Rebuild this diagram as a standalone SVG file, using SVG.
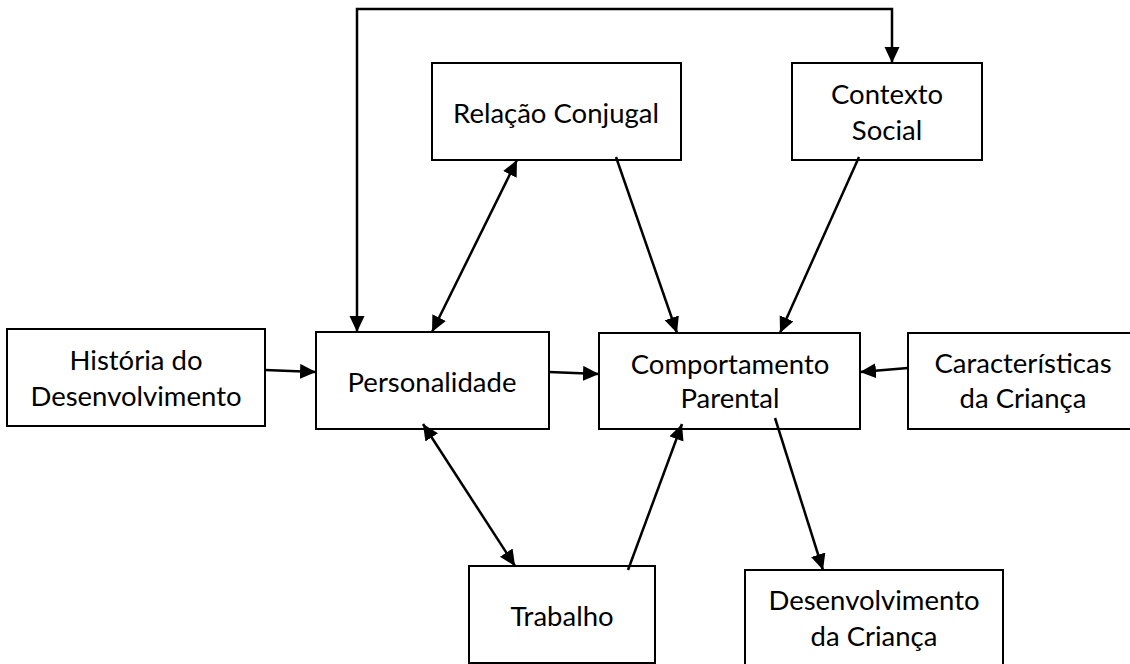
<svg xmlns="http://www.w3.org/2000/svg" width="1130" height="664" viewBox="0 0 1130 664">
  <style>
    .box { fill: #ffffff; stroke: #000000; stroke-width: 2; }
    .lbl { font-family: Lato, "Open Sans", "Liberation Sans", sans-serif; font-size: 27.5px; fill: #000000; text-anchor: middle; }
    .con { fill: none; stroke: #000000; stroke-width: 2.5; }
  </style>
  <defs>
    <marker id="arr" markerUnits="userSpaceOnUse" markerWidth="18" markerHeight="16" refX="16" refY="7.5" orient="auto-start-reverse" viewBox="0 0 18 16">
      <path d="M0,0 L16,7.5 L0,15 z" fill="#000000"/>
    </marker>
  </defs>
  <rect width="1130" height="664" fill="#ffffff"/>

  <g id="n-relacao">
    <rect class="box" x="432" y="63" width="249" height="97"/>
    <text class="lbl" x="556" y="123">Relação Conjugal</text>
  </g>
  <g id="n-contexto">
    <rect class="box" x="792" y="63" width="190" height="97"/>
    <text class="lbl" x="887" y="104">Contexto</text>
    <text class="lbl" x="887" y="140">Social</text>
  </g>
  <g id="n-historia">
    <rect class="box" x="7" y="329" width="258" height="97"/>
    <text class="lbl" x="136" y="370">História do</text>
    <text class="lbl" x="136" y="406">Desenvolvimento</text>
  </g>
  <g id="n-personalidade">
    <rect class="box" x="316" y="332" width="233" height="97"/>
    <text class="lbl" x="432" y="392">Personalidade</text>
  </g>
  <g id="n-comportamento">
    <rect class="box" x="599" y="333" width="261" height="96"/>
    <text class="lbl" x="730" y="374">Comportamento</text>
    <text class="lbl" x="730" y="408">Parental</text>
  </g>
  <g id="n-caracteristicas">
    <rect class="box" x="908" y="333" width="232" height="96"/>
    <text class="lbl" x="1023" y="373">Características</text>
    <text class="lbl" x="1023" y="408">da Criança</text>
  </g>
  <g id="n-trabalho">
    <rect class="box" x="469" y="566" width="186" height="97"/>
    <text class="lbl" x="562" y="626">Trabalho</text>
  </g>
  <g id="n-desenvolvimento">
    <rect class="box" x="745" y="570" width="258" height="110"/>
    <text class="lbl" x="874" y="610">Desenvolvimento</text>
    <text class="lbl" x="874" y="646">da Criança</text>
  </g>

  <g id="connectors">
    <path class="con" d="M357,332 L357,9 L892,9 L892,63" marker-start="url(#arr)" marker-end="url(#arr)"/>
    <path class="con" d="M517,160 L432,332" marker-start="url(#arr)" marker-end="url(#arr)"/>
    <path class="con" d="M616,157 L677,333" marker-end="url(#arr)"/>
    <path class="con" d="M859,157 L780,333" marker-end="url(#arr)"/>
    <path class="con" d="M265,370 L316,372" marker-end="url(#arr)"/>
    <path class="con" d="M549,372 L599,374" marker-end="url(#arr)"/>
    <path class="con" d="M908,368 L860,372" marker-end="url(#arr)"/>
    <path class="con" d="M423,424 L515,566" marker-start="url(#arr)" marker-end="url(#arr)"/>
    <path class="con" d="M628,570 L682,424" marker-end="url(#arr)"/>
    <path class="con" d="M775,418 L823,570" marker-end="url(#arr)"/>
  </g>
</svg>
